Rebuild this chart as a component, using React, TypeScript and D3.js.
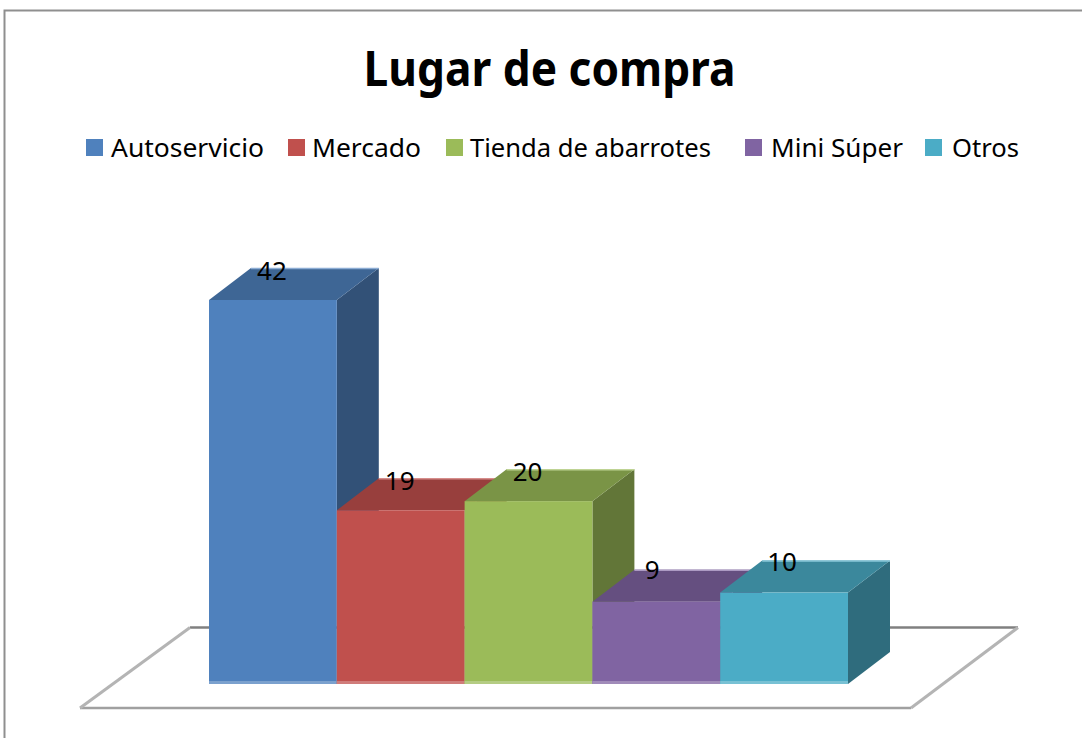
import React from "react";
import * as d3 from "d3";

const title = "Lugar de compra";
const categories = ["Autoservicio", "Mercado", "Tienda de abarrotes", "Mini Súper", "Otros"];
const values = [42, 19, 20, 9, 10];
const colors = ["#4F81BD", "#C0504D", "#9BBB59", "#8064A2", "#4BACC6"];
const legendSwatchX = [86, 288, 446, 745, 925];
const legendTextX = [111, 312, 470, 771, 952];
const legendTextW = [153, 109, 241, 132, 67];
const labelNudgeX = [-1, -1, -1, -4, -2];
const labelNudgeY = [-20, -20, -20, -23, -22];

const W = 1082;
const H = 738;
const FONT = "'Noto Sans', 'Open Sans', sans-serif";
const depthX = 42;
const depthY = 32;

const x = d3.scaleBand<string>().domain(categories).range([209, 848]).padding(0);
const y = d3.scaleLinear().domain([0, 42]).range([684, 300]);
const shade = (c: string, k: number) => d3.interpolateRgb(c, "#000")(1 - k);
const tint = (c: string, k: number) => d3.interpolateRgb(c, "#fff")(k);
const poly = d3.line();

export default function App() {
  const floorFront = { y: 708, x0: 80, x1: 911 };
  const floorBack = { y: 627.5, x0: 190, x1: 1018 };
  return (
    <svg width={W} height={H} viewBox={`0 0 ${W} ${H}`} style={{ position: "absolute", left: 0, top: 0, background: "#fff" }}>
      <path d={`M4.5 ${H}V10.5H${W}`} fill="none" stroke="#8f8f8f" strokeWidth={2} />
      <text x={549.5} y={86} textAnchor="middle" fontFamily={FONT} fontWeight={700} fontSize={49} textLength={372} lengthAdjust="spacingAndGlyphs" fill="#000">{title}</text>

      {categories.map((c, i) => (
        <g key={c}>
          <rect x={legendSwatchX[i]} y={139} width={17} height={17} fill={colors[i]} />
          <text x={legendTextX[i]} y={157} fontFamily={FONT} fontSize={25} textLength={legendTextW[i]} lengthAdjust="spacingAndGlyphs" fill="#000">{c}</text>
        </g>
      ))}

      <g fill="none">
        <path d={poly([[floorBack.x0, floorBack.y], [floorBack.x1, floorBack.y]])!} stroke="#808080" strokeWidth={2.5} />
        <path d={poly([[floorFront.x0, floorFront.y], [floorFront.x1, floorFront.y]])!} stroke="#a0a0a0" strokeWidth={2.5} />
        <path d={poly([[floorFront.x0, floorFront.y], [floorBack.x0, floorBack.y]])!} stroke="#b4b4b4" strokeWidth={3} />
        <path d={poly([[floorFront.x1, floorFront.y], [floorBack.x1, floorBack.y]])!} stroke="#b4b4b4" strokeWidth={3} />
      </g>

      {categories.map((c, i) => {
        const x0 = x(c)!;
        const x1 = x0 + x.bandwidth();
        const top = y(values[i]);
        const base = y(0);
        return (
          <g key={c}>
            <path d={poly([[x1, top], [x1 + depthX, top - depthY], [x1 + depthX, base - depthY], [x1, base]])! + "Z"} fill={shade(colors[i], 0.63)} />
            <path d={poly([[x0, top], [x0 + depthX, top - depthY], [x1 + depthX, top - depthY], [x1, top]])! + "Z"} fill={shade(colors[i], 0.79)} />
            <path d={poly([[x0 + depthX, top - depthY + 0.5], [x1 + depthX, top - depthY + 0.5]])!} stroke={tint(colors[i], 0.35)} strokeWidth={1.5} fill="none" />
            <rect x={x0} y={top} width={x.bandwidth()} height={base - top} fill={colors[i]} />
            <rect x={x0} y={base - 3} width={x.bandwidth()} height={3} fill={tint(colors[i], 0.25)} />
          </g>
        );
      })}

      {categories.map((c, i) => (
        <text key={c} x={x(c)! + x.bandwidth() / 2 + labelNudgeX[i]} y={y(values[i]) + labelNudgeY[i]} textAnchor="middle" fontFamily={FONT} fontSize={26} fill="#000">{values[i]}</text>
      ))}
    </svg>
  );
}
